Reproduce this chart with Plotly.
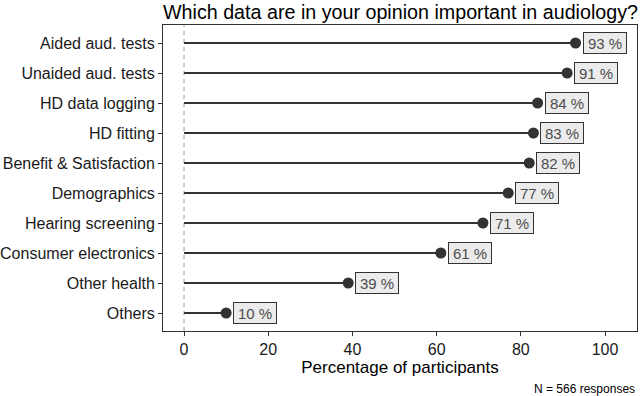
import plotly.graph_objects as go

categories = ["Aided aud. tests", "Unaided aud. tests", "HD data logging", "HD fitting",
              "Benefit & Satisfaction", "Demographics", "Hearing screening",
              "Consumer electronics", "Other health", "Others"]
values = [93, 91, 84, 83, 82, 77, 71, 61, 39, 10]
x_ticks = [0, 20, 40, 60, 80, 100]

FONT = "Liberation Sans, Arial"

seg_x, seg_y = [], []
for c, v in zip(categories, values):
    seg_x += [0, v, None]
    seg_y += [c, c, None]

fig = go.Figure()
fig.add_trace(go.Scatter(x=seg_x, y=seg_y, mode="lines",
                         line=dict(color="#333333", width=2), hoverinfo="skip"))
fig.add_trace(go.Scatter(x=values, y=categories, mode="markers",
                         marker=dict(color="#333333", size=11)))

for c, v in zip(categories, values):
    fig.add_annotation(x=v, y=c, text=f"{v} %", showarrow=False, xanchor="left",
                       xshift=7, width=38, height=16, align="center",
                       font=dict(size=15, color="#4d4d4d", family=FONT),
                       bgcolor="#ebebeb", bordercolor="#333333", borderwidth=1, borderpad=2)

fig.add_shape(type="line", x0=0, x1=0, y0=0, y1=1, xref="x", yref="paper",
              line=dict(color="#999999", width=1, dash="4px,4px"), layer="below")

fig.update_layout(
    width=640, height=396,
    margin=dict(l=163, r=3, t=25, b=65),
    plot_bgcolor="white", paper_bgcolor="white",
    showlegend=False,
    font=dict(family=FONT, color="#1a1a1a"),
    xaxis=dict(range=[-5.0, 107.6], tickvals=x_ticks, ticks="outside", ticklen=4,
               tickcolor="#333333", showgrid=False, zeroline=False, automargin=False,
               showline=True, linecolor="#333333", linewidth=1, mirror=True,
               tickfont=dict(size=16, color="#1a1a1a", family=FONT),
               title=dict(text="Percentage of participants", font=dict(size=17, color="black", family=FONT), standoff=2)),
    yaxis=dict(categoryorder="array", categoryarray=categories, range=[9.6, -0.6],
               ticks="outside", ticklen=4, tickcolor="#333333", showgrid=False, zeroline=False,
               automargin=False,
               showline=True, linecolor="#333333", linewidth=1, mirror=True,
               tickfont=dict(size=16, color="#1a1a1a", family=FONT)),
)
fig.add_annotation(text="Which data are in your opinion important in audiology?",
                   xref="paper", yref="paper", x=0.5, y=1, xanchor="center", yanchor="bottom",
                   yshift=0, showarrow=False, font=dict(size=19.7, color="black", family=FONT))
fig.add_annotation(text="N = 566 responses", xref="paper", yref="paper", x=1, y=0,
                   xanchor="right", yanchor="top", yshift=-49, showarrow=False,
                   font=dict(size=12, color="black", family=FONT))

fig.write_html("out.html", config={"displayModeBar": False},
               post_script="document.body.style.margin='0';document.body.style.overflow='hidden';")
